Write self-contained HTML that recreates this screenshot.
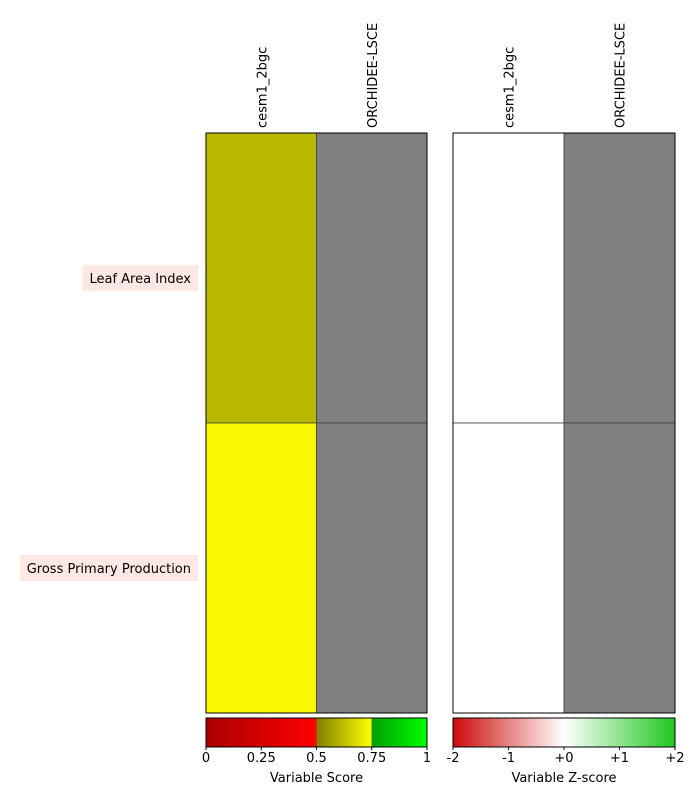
<!DOCTYPE html>
<html><head><meta charset="utf-8"><style>
body{margin:0;background:#fff;}
svg text{font-family:"DejaVu Sans","Liberation Sans",sans-serif;font-size:13px;fill:#000;}
</style></head><body>
<svg id="chart" width="700" height="800" xmlns="http://www.w3.org/2000/svg">
<defs>
<linearGradient id="gscore" x1="0" x2="1" y1="0" y2="0">
<stop offset="0" stop-color="#aa0000"/><stop offset="0.5" stop-color="#ff0000"/>
<stop offset="0.5" stop-color="#808000"/><stop offset="0.75" stop-color="#ffff00"/>
<stop offset="0.75" stop-color="#00a000"/><stop offset="1" stop-color="#00ff00"/>
</linearGradient>
<linearGradient id="gz" x1="0" x2="1" y1="0" y2="0">
<stop offset="0" stop-color="#cc0a0a"/><stop offset="0.5" stop-color="#ffffff"/><stop offset="1" stop-color="#1ec81e"/>
</linearGradient>
</defs>
<g id="layer"></g>
</svg>
<script>
const models = ["cesm1_2bgc", "ORCHIDEE-LSCE"];
const variables = ["Leaf Area Index", "Gross Primary Production"];
const scores = [[0.612, null], [0.736, null]];
const zscores = [[0.0, null], [0.0, null]];
const scoreTicks = ["0", "0.25", "0.5", "0.75", "1"];
const zTicks = ["-2", "-1", "+0", "+1", "+2"];

const NS = "http://www.w3.org/2000/svg";
const g = document.getElementById("layer");
function mk(tag, attrs, text) {
  const e = document.createElementNS(NS, tag);
  for (const k in attrs) e.setAttribute(k, attrs[k]);
  if (text !== undefined) e.textContent = text;
  g.appendChild(e);
  return e;
}
function lerp(a, b, t) { return a.map((v, i) => Math.round(v + (b[i] - v) * t)); }
function rgb(c) { return "rgb(" + c.join(",") + ")"; }
function scoreColor(v) {
  if (v < 0.5) return rgb(lerp([170,0,0],[255,0,0], v / 0.5));
  if (v < 0.75) return rgb(lerp([128,128,0],[255,255,0], (v - 0.5) / 0.25));
  return rgb(lerp([0,160,0],[0,255,0], (v - 0.75) / 0.25));
}
function zColor(v) {
  const t = Math.max(-2, Math.min(2, v)) / 2;
  if (t < 0) return rgb(lerp([255,255,255],[204,10,10], -t));
  return rgb(lerp([255,255,255],[30,200,30], t));
}
const plotTop = 133, plotBottom = 713;
const panels = [{x0:206, x1:427, data:scores, col:scoreColor, name:"score"},
                {x0:453, x1:675, data:zscores, col:zColor, name:"zscore"}];
const rowH = (plotBottom - plotTop) / variables.length;
panels.forEach(p => {
  const colW = (p.x1 - p.x0) / models.length;
  variables.forEach((v, r) => {
    models.forEach((m, c) => {
      const val = p.data[r][c];
      const cell = mk("rect", {x:p.x0 + c*colW, y:plotTop + r*rowH, width:colW, height:rowH,
        fill: val === null ? "#808080" : p.col(val), stroke:"#404040", "stroke-width":0.8});
      
      
    });
  });
  mk("rect", {x:p.x0, y:plotTop, width:p.x1-p.x0, height:plotBottom-plotTop, fill:"none", stroke:"#000", "stroke-width":1});
  models.forEach((m, c) => {
    const x = p.x0 + (c + 0.5) * colW + 5;
    const t = mk("text", {transform:"translate(" + x + "," + (plotTop - 5) + ") rotate(-90)"}, m);
    
    
  });
});
variables.forEach((v, r) => {
  const cy = plotTop + (r + 0.5) * rowH;
  const t = mk("text", {x:191, y:cy + 5, "text-anchor":"end"}, v);
  let w = 0;
  try { w = t.getComputedTextLength(); } catch (e) { w = v.length * 7.5; }
  if (!w) w = v.length * 7.5;
  const box = mk("rect", {x:191 - w - 7, y:cy - 13, width:w + 14, height:26, fill:"#fde8e4"});
  g.insertBefore(box, t);
  
  
  
  
});
const bars = [{x0:206, x1:427, fill:"url(#gscore)", ticks:scoreTicks, title:"Variable Score", name:"score"},
              {x0:453, x1:675, fill:"url(#gz)", ticks:zTicks, title:"Variable Z-score", name:"zscore"}];
bars.forEach(b => {
  const cb = mk("rect", {x:b.x0, y:718, width:b.x1-b.x0, height:29, fill:b.fill, stroke:"#000", "stroke-width":1});
  
  
  b.ticks.forEach((tk, i) => {
    const x = b.x0 + (b.x1 - b.x0) * i / (b.ticks.length - 1);
    mk("line", {x1:x, x2:x, y1:747, y2:750, stroke:"#000"});
    const t = mk("text", {x:x, y:762, "text-anchor":"middle"}, tk);
    
    
  });
  const tt = mk("text", {x:(b.x0 + b.x1)/2, y:782, "text-anchor":"middle"}, b.title);
  
  
});
</script>
</body></html>
